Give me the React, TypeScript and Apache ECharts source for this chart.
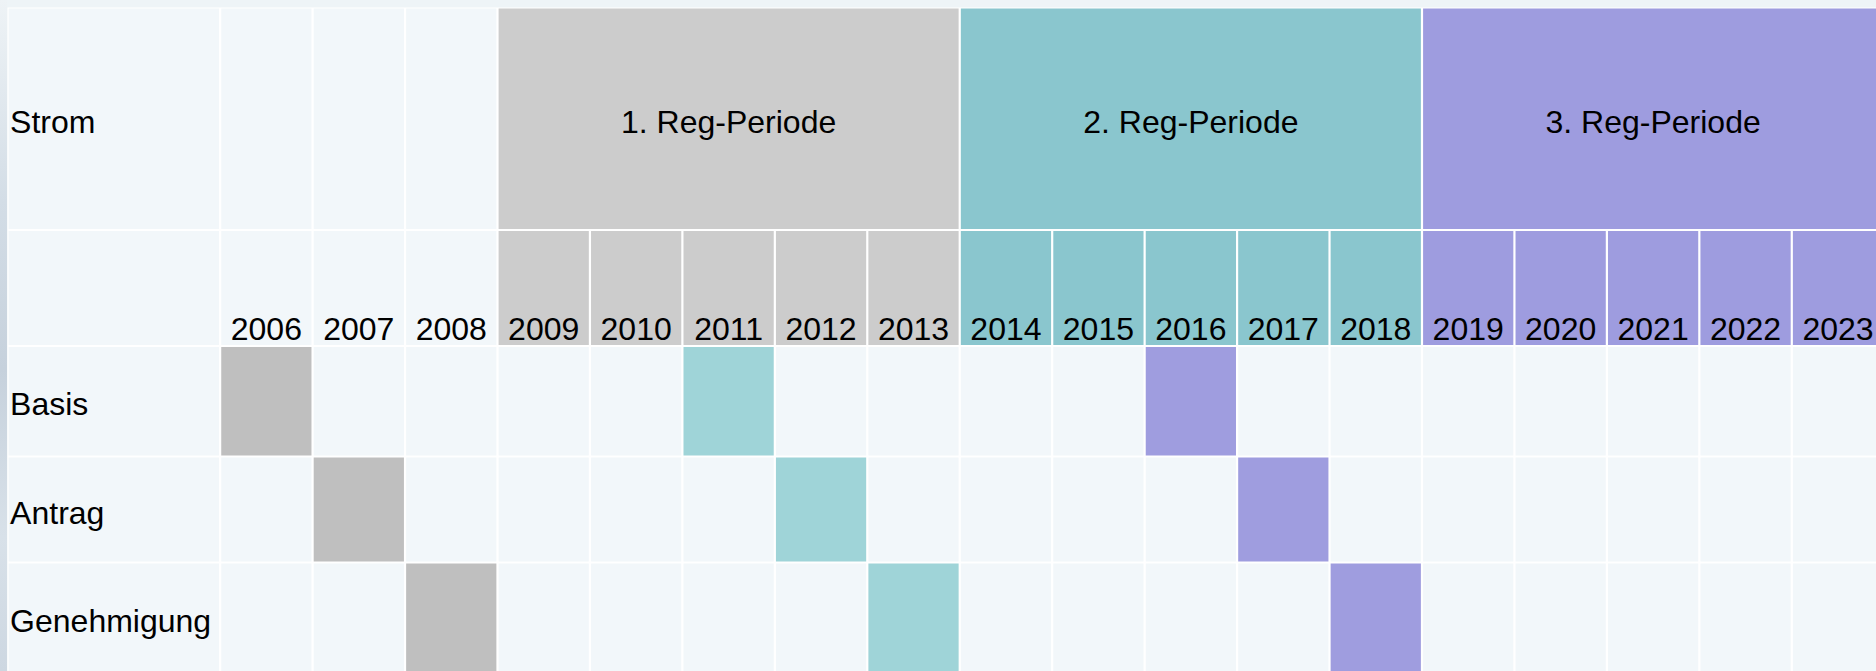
import React, { useEffect, useRef } from "react";
import * as echarts from "echarts";

// ---------- data ----------
const years: number[] = [2006, 2007, 2008, 2009, 2010, 2011, 2012, 2013, 2014, 2015, 2016, 2017, 2018, 2019, 2020, 2021, 2022, 2023];
const headerLabel = "Strom";
const periods: string[] = ["1. Reg-Periode", "2. Reg-Periode", "3. Reg-Periode"];
const periodStart: number[] = [2009, 2014, 2019];
const periodEnd: number[] = [2013, 2018, 2023];
const rowLabels: string[] = ["Basis", "Antrag", "Genehmigung"];
const basisYears: number[] = [2006, 2011, 2016];
const antragYears: number[] = [2007, 2012, 2017];
const genehmigungYears: number[] = [2008, 2013, 2018];

// ---------- styles / layout ----------
const headerColors = ["#cccccc", "#8ac6ce", "#9e9cdf"];
const markColors = ["#bfbfbf", "#9fd4d8", "#9f9ddf"];
const emptyFill = "#f2f7fa";
const pageBg = "#eef4f7";
const FONT = '"Liberation Sans", Arial, Helvetica, sans-serif';
const FONT_SIZE = 32;
const COL_PX = 92.45;
const LABEL_COL_SPAN = 2.3; // label column width in year units
const rowWeights = [222.5, 116, 110.5, 106, 110]; // header, years, Basis, Antrag, Genehmigung
const GAP = 1.1;
const MID_SHIFT = 3;

type Cell = {
  x0: number;
  x1: number;
  row: number;
  fill: string;
  text?: string;
  pos?: "left" | "center" | "bottom";
};

function buildCells(): Cell[] {
  const cells: Cell[] = [];
  const xMin = years[0] - LABEL_COL_SPAN;
  const periodOf = (y: number) => periodStart.findIndex((s, i) => y >= s && y <= periodEnd[i]);
  // label column
  const labels = [headerLabel, "", ...rowLabels];
  labels.forEach((t, r) => cells.push({ x0: xMin, x1: years[0], row: r, fill: emptyFill, text: t, pos: "left" }));
  // header row
  years.forEach((y) => {
    if (periodOf(y) < 0) cells.push({ x0: y, x1: y + 1, row: 0, fill: emptyFill });
  });
  periods.forEach((p, i) =>
    cells.push({ x0: periodStart[i], x1: periodEnd[i] + 1, row: 0, fill: headerColors[i], text: p, pos: "center" })
  );
  // years row
  years.forEach((y) => {
    const pi = periodOf(y);
    cells.push({ x0: y, x1: y + 1, row: 1, fill: pi >= 0 ? headerColors[pi] : emptyFill, text: String(y), pos: "bottom" });
  });
  // data rows
  [basisYears, antragYears, genehmigungYears].forEach((list, k) => {
    years.forEach((y) => {
      const idx = list.indexOf(y);
      cells.push({ x0: y, x1: y + 1, row: 2 + k, fill: idx >= 0 ? markColors[idx] : emptyFill });
    });
  });
  return cells;
}

export default function App() {
  const ref = useRef<HTMLDivElement>(null);
  useEffect(() => {
    if (!ref.current) return;
    document.body.style.margin = "0";
    document.body.style.overflow = "hidden";
    const chart = echarts.init(ref.current, undefined, { renderer: "svg" });
    const cells = buildCells();
    const rowEdges: number[] = [0];
    rowWeights.forEach((w) => rowEdges.push(rowEdges[rowEdges.length - 1] + w));
    const totalH = rowEdges[rowEdges.length - 1];
    const xMin = years[0] - LABEL_COL_SPAN;
    const xMax = years[years.length - 1] + 1;

    const option: any = {
      animation: false,
      backgroundColor: pageBg,
      graphic: [
        {
          type: "rect",
          left: 0,
          top: 0,
          shape: { width: 7, height: 671 },
          style: {
            fill: new echarts.graphic.LinearGradient(0, 0, 0, 1, [
              { offset: 0, color: "#eef3f6" },
              { offset: 0.3, color: "#d3dde6" },
              { offset: 0.55, color: "#c6d1dc" },
              { offset: 0.8, color: "#d8e1e9" },
              { offset: 1, color: "#cdd7e1" },
            ]),
          },
          silent: true,
        },
      ],
      grid: {
        left: 7.5,
        top: 7.5,
        width: COL_PX * (years.length + LABEL_COL_SPAN),
        height: totalH,
        show: true,
        backgroundColor: "#ffffff",
        borderWidth: 0,
        containLabel: false,
        outerBoundsMode: "none",
      },
      xAxis: { type: "value", min: xMin, max: xMax, show: false },
      yAxis: { type: "value", min: 0, max: totalH, inverse: true, show: false },
      series: [
        {
          type: "custom",
          coordinateSystem: "cartesian2d",
          clip: false,
          encode: { x: [0, 1], y: [2, 3] },
          data: cells.map((c) => [c.x0, c.x1, rowEdges[c.row], rowEdges[c.row + 1]]),
          renderItem: (params: any, api: any) => {
            const c = cells[params.dataIndex];
            const p0 = api.coord([api.value(0), api.value(2)]);
            const p1 = api.coord([api.value(1), api.value(3)]);
            const x = p0[0] + GAP;
            const y = p0[1] + GAP;
            const w = p1[0] - p0[0] - 2 * GAP;
            const h = p1[1] - p0[1] - 2 * GAP;
            const children: any[] = [
              { type: "rect", shape: { x, y, width: w, height: h }, style: { fill: c.fill } },
            ];
            if (c.text) {
              let tx = x + w / 2;
              let ty = y + h / 2 + MID_SHIFT;
              let align = "center";
              let va = "middle";
              if (c.pos === "left") {
                tx = x + 1.5;
                align = "left";
              } else if (c.pos === "bottom") {
                ty = y + h;
                va = "bottom";
              }
              children.push({
                type: "text",
                x: tx,
                y: ty,
                style: {
                  text: c.text,
                  fill: "#000000",
                  fontSize: FONT_SIZE,
                  fontFamily: FONT,
                  align,
                  verticalAlign: va,
                },
              });
            }
            return { type: "group", children };
          },
        },
      ],
    };
    chart.setOption(option);
    return () => chart.dispose();
  }, []);
  return (
    <div
      ref={ref}
      style={{ position: "absolute", left: 0, top: 0, width: 1876, height: 671 }}
    />
  );
}
